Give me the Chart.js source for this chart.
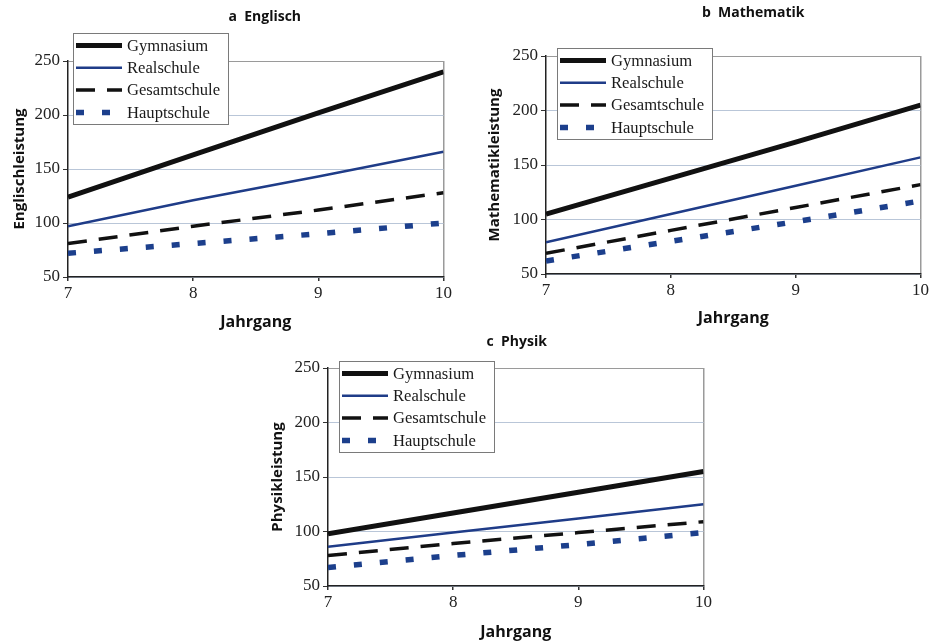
<!DOCTYPE html>
<html><head><meta charset="utf-8">
<script src="https://cdn.jsdelivr.net/npm/chart.js@4"></script>
<style>
body{margin:0;background:#fff;width:931px;height:643px;overflow:hidden;position:relative}
canvas{position:absolute}
</style></head><body>
<canvas id="ca" style="left:0px;top:0px" width="454" height="335"></canvas>
<canvas id="cb" style="left:475px;top:0px" width="456" height="331"></canvas>
<canvas id="cc" style="left:258px;top:330px" width="456" height="313"></canvas>
<script>
// ---- data ----
const years = [7, 8, 9, 10];
const seriesNames = ['Gymnasium', 'Realschule', 'Gesamtschule', 'Hauptschule'];
const yTickValues = [50, 100, 150, 200, 250];

const englischGymnasium   = [124, 163, 202, 240];
const englischRealschule  = [97, 121, 143, 166];
const englischGesamtschule= [81, 97, 112, 128];
const englischHauptschule = [72, 81, 90, 100];

const matheGymnasium   = [105, 138, 171, 205];
const matheRealschule  = [79, 105, 131, 157];
const matheGesamtschule= [69, 90, 111, 132];
const matheHauptschule = [62, 80, 98, 117];

const physikGymnasium   = [98, 117, 136, 155];
const physikRealschule  = [86, 99, 112, 125];
const physikGesamtschule= [78, 89, 99, 109];
const physikHauptschule = [67, 78, 88, 99];

// ---- styles ----
const styles = [
  {borderColor:'#111111', borderWidth:5, borderDash:[]},
  {borderColor:'#1f3c88', borderWidth:2.5, borderDash:[]},
  {borderColor:'#111111', borderWidth:3.5, borderDash:[19,12]},
  {borderColor:'#1c3f8c', borderWidth:5.5, borderDash:[8,18]}
];

const legendBox = {
  id: 'legendBox',
  afterDraw(chart, args, opts) {
    const ctx = chart.ctx, a = chart.chartArea;
    const x0 = Math.round(a.left + opts.dx), y0 = Math.round(a.top + opts.dy), w = 155, h = 91;
    ctx.save();
    ctx.fillStyle = '#fff';
    ctx.fillRect(x0, y0, w, h);
    ctx.strokeStyle = '#7a7a7a'; ctx.lineWidth = 1; ctx.setLineDash([]);
    ctx.strokeRect(x0 + 0.5, y0 + 0.5, w, h);
    chart.data.datasets.forEach((ds, i) => {
      const cy = y0 + 12.5 + i * 22.3;
      ctx.beginPath();
      ctx.strokeStyle = ds.borderColor; ctx.lineWidth = ds.borderWidth;
      ctx.setLineDash(ds.borderDash || []); ctx.lineCap = 'butt';
      ctx.moveTo(x0 + 3, cy); ctx.lineTo(x0 + 49, cy); ctx.stroke();
      ctx.setLineDash([]);
      ctx.fillStyle = '#1a1a1a';
      ctx.font = '16.6px "Liberation Serif"';
      ctx.textBaseline = 'middle';
      ctx.fillText(ds.label, x0 + 54, cy + 1);
    });
    ctx.restore();
  }
};

const panelTitle = {
  id: 'panelTitle',
  afterDraw(chart, args, opts) {
    const ctx = chart.ctx, a = chart.chartArea;
    ctx.save();
    ctx.fillStyle = '#111';
    ctx.font = 'bold 14px "Open Sans"';
    ctx.textAlign = 'center'; ctx.textBaseline = 'middle';
    ctx.fillText(opts.text, (a.left + a.right) / 2 + opts.dx, opts.y);
    ctx.restore();
  }
};

function makeChart(id, title, yTitle, seriesValues, g) {
  const datasets = seriesValues.map((vals, i) => Object.assign({
    label: seriesNames[i],
    data: vals.map((v, k) => ({x: years[k], y: v})),
    pointRadius: 0, tension: 0, fill: false
  }, styles[i]));
  return new Chart(document.getElementById(id), {
    type: 'line',
    data: {datasets},
    plugins: [legendBox, panelTitle],
    options: {
      responsive: false, animation: false,
      layout: {padding: {top: g.top, left: 0, right: 0, bottom: 0}},
      plugins: {
        legend: {display: false},
        tooltip: {enabled: false},
        title: {display: false},
        panelTitle: {text: title, dx: g.tdx, y: g.ty},
        legendBox: {dx: g.ldx, dy: g.ldy}
      },
      scales: {
        x: {
          type: 'linear', min: 7, max: 10,
          afterBuildTicks: s => { s.ticks = years.map(v => ({value: v})); },
          ticks: {font: {family: 'Liberation Serif', size: 17}, color: '#222', padding: 2, maxRotation: 0},
          grid: {color: c => (c.tick && c.tick.value === 10) ? '#9a9a9a' : 'rgba(0,0,0,0)', tickLength: 4, tickColor: '#333', lineWidth: 1.5},
          border: {color: '#222', width: 1.5},
          title: {display: true, text: 'Jahrgang', color: '#111',
            font: {family: 'Open Sans', weight: 'bold', size: 16}, padding: {top: 0, bottom: g.xtPad}},
          afterFit: s => { s.height = g.xh; }
        },
        y: {
          min: 50, max: 250,
          afterBuildTicks: s => { s.ticks = yTickValues.map(v => ({value: v})); },
          ticks: {font: {family: 'Liberation Serif', size: 17}, color: '#222', padding: 3},
          grid: {color: c => (c.tick && c.tick.value === 250) ? '#9a9a9a' : '#b9c6d8', tickLength: 5, tickColor: '#333'},
          border: {color: '#222', width: 1.5},
          title: {display: true, text: yTitle, color: '#111',
            font: {family: 'Open Sans', weight: 'bold', size: 15}, padding: {top: 11, bottom: 0}},
          afterFit: s => { s.width = g.yw; }
        }
      }
    }
  });
}

makeChart('ca', 'a  Englisch', 'Englischleistung',
  [englischGymnasium, englischRealschule, englischGesamtschule, englischHauptschule],
  {top: 61, ty: 17, tdx: 9, xh: 58, xtPad: 3, yw: 68, ldx: 5, ldy: -28});
makeChart('cb', 'b  Mathematik', 'Mathematikleistung',
  [matheGymnasium, matheRealschule, matheGesamtschule, matheHauptschule],
  {top: 56, ty: 13, tdx: 20, xh: 57, xtPad: 3, yw: 71, ldx: 11, ldy: -8});
makeChart('cc', 'c  Physik', 'Physikleistung',
  [physikGymnasium, physikRealschule, physikGesamtschule, physikHauptschule],
  {top: 38, ty: 12, tdx: 1, xh: 57, xtPad: 1, yw: 70, ldx: 11, ldy: -7});
</script>
</body></html>
